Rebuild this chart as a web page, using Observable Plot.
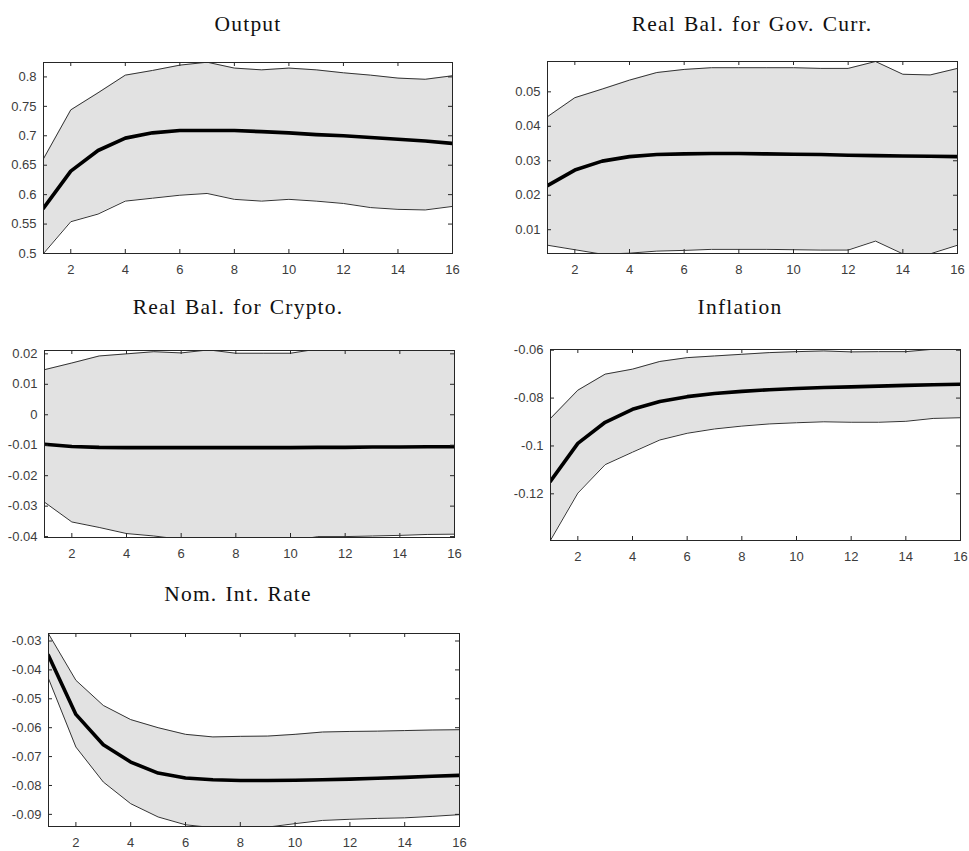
<!DOCTYPE html>
<html>
<head>
<meta charset="utf-8">
<script src="https://cdn.jsdelivr.net/npm/d3@7"></script>
<script src="https://cdn.jsdelivr.net/npm/@observablehq/plot@0.6"></script>
<style>
  html, body { margin: 0; padding: 0; background: #ffffff; }
  #root { position: relative; width: 969px; height: 851px; background: #ffffff; overflow: hidden; }
  .panel { position: absolute; }
  #titles { position: absolute; left: 0; top: 0; pointer-events: none; }
</style>
</head>
<body>
<div id="root"></div>
<script>
// ---------------- data ----------------
const steps = [1, 2, 3, 4, 5, 6, 7, 8, 9, 10, 11, 12, 13, 14, 15, 16];
const xTicks = [2, 4, 6, 8, 10, 12, 14, 16];

const titles = ["Output", "Real Bal. for Gov. Curr.", "Real Bal. for Crypto.", "Inflation", "Nom. Int. Rate"];

// Output
const outputMean  = [0.577, 0.640, 0.675, 0.696, 0.705, 0.709, 0.709, 0.709, 0.707, 0.705, 0.702, 0.700, 0.697, 0.694, 0.691, 0.687];
const outputUpper = [0.661, 0.744, 0.773, 0.803, 0.811, 0.820, 0.825, 0.815, 0.812, 0.815, 0.812, 0.807, 0.803, 0.798, 0.796, 0.802];
const outputLower = [0.500, 0.554, 0.567, 0.589, 0.594, 0.599, 0.602, 0.592, 0.589, 0.592, 0.589, 0.585, 0.578, 0.575, 0.574, 0.580];
const outputTicks = [0.5, 0.55, 0.6, 0.65, 0.7, 0.75, 0.8];
const outputLimits = [0.5, 0.8245];

// Real Bal. for Gov. Curr.
const govMean  = [0.0228, 0.0273, 0.0299, 0.0312, 0.0318, 0.0320, 0.0321, 0.0321, 0.0320, 0.0319, 0.0318, 0.0316, 0.0315, 0.0314, 0.0313, 0.0312];
const govUpper = [0.0428, 0.0483, 0.0508, 0.0534, 0.0556, 0.0565, 0.0570, 0.0570, 0.0570, 0.0570, 0.0568, 0.0568, 0.0588, 0.0551, 0.0549, 0.0568];
const govLower = [0.0055, 0.0042, 0.0029, 0.0032, 0.0038, 0.0040, 0.0043, 0.0043, 0.0043, 0.0042, 0.0041, 0.0041, 0.0067, 0.0030, 0.0030, 0.0055];
const govTicks = [0.01, 0.02, 0.03, 0.04, 0.05];
const govLimits = [0.0031, 0.0588];

// Real Bal. for Crypto.
const cryptoMean  = [-0.0097, -0.0104, -0.0107, -0.0108, -0.0108, -0.0108, -0.0108, -0.0108, -0.0108, -0.0108, -0.0107, -0.0107, -0.0106, -0.0106, -0.0105, -0.0105];
const cryptoUpper = [0.0148, 0.0170, 0.0193, 0.0200, 0.0207, 0.0203, 0.0213, 0.0202, 0.0202, 0.0202, 0.0216, 0.0213, 0.0211, 0.0211, 0.0211, 0.0211];
const cryptoLower = [-0.0287, -0.0352, -0.0370, -0.0390, -0.0398, -0.0409, -0.0404, -0.0413, -0.0414, -0.0414, -0.0400, -0.0400, -0.0398, -0.0396, -0.0393, -0.0392];
const cryptoTicks = [-0.04, -0.03, -0.02, -0.01, 0, 0.01, 0.02];
const cryptoLimits = [-0.0403, 0.0211];

// Inflation
const inflMean  = [-0.1147, -0.0989, -0.0901, -0.0847, -0.0814, -0.0794, -0.0781, -0.0772, -0.0765, -0.0760, -0.0756, -0.0753, -0.0750, -0.0747, -0.0744, -0.0742];
const inflUpper = [-0.0885, -0.0767, -0.0700, -0.0679, -0.0647, -0.0631, -0.0624, -0.0617, -0.0610, -0.0606, -0.0603, -0.0607, -0.0606, -0.0606, -0.0596, -0.0596];
const inflLower = [-0.1394, -0.1197, -0.1078, -0.1026, -0.0975, -0.0947, -0.0929, -0.0917, -0.0908, -0.0903, -0.0899, -0.0901, -0.0901, -0.0897, -0.0885, -0.0882];
const inflTicks = [-0.12, -0.1, -0.08, -0.06];
const inflLimits = [-0.1395, -0.0597];

// Nom. Int. Rate
const rateMean  = [-0.0350, -0.0554, -0.0659, -0.0719, -0.0757, -0.0774, -0.0780, -0.0783, -0.0783, -0.0782, -0.0780, -0.0778, -0.0775, -0.0772, -0.0768, -0.0765];
const rateUpper = [-0.0275, -0.0436, -0.0523, -0.0572, -0.0600, -0.0623, -0.0632, -0.0630, -0.0629, -0.0623, -0.0615, -0.0613, -0.0612, -0.0610, -0.0608, -0.0607];
const rateLower = [-0.0430, -0.0667, -0.0788, -0.0863, -0.0909, -0.0936, -0.0946, -0.0946, -0.0944, -0.0932, -0.0921, -0.0917, -0.0914, -0.0912, -0.0907, -0.0901];
const rateTicks = [-0.09, -0.08, -0.07, -0.06, -0.05, -0.04, -0.03];
const rateLimits = [-0.0942, -0.0274];

// ---------------- layout ----------------
const panels = [
  {title: titles[0], mean: outputMean, upper: outputUpper, lower: outputLower, ticks: outputTicks, limits: outputLimits, box: {x0: 43,  x1: 452, y0: 62,  y1: 253, tx: 248, ty: 31}},
  {title: titles[1], mean: govMean,    upper: govUpper,    lower: govLower,    ticks: govTicks,    limits: govLimits,    box: {x0: 547, x1: 957, y0: 61,  y1: 253, tx: 752, ty: 31}},
  {title: titles[2], mean: cryptoMean, upper: cryptoUpper, lower: cryptoLower, ticks: cryptoTicks, limits: cryptoLimits, box: {x0: 44,  x1: 454, y0: 350, y1: 537, tx: 238, ty: 314}},
  {title: titles[3], mean: inflMean,   upper: inflUpper,   lower: inflLower,   ticks: inflTicks,   limits: inflLimits,   box: {x0: 550, x1: 960, y0: 349, y1: 540, tx: 740, ty: 314}},
  {title: titles[4], mean: rateMean,   upper: rateUpper,   lower: rateLower,   ticks: rateTicks,   limits: rateLimits,   box: {x0: 48,  x1: 459, y0: 633, y1: 826, tx: 238, ty: 601}}
];

const fmt = d => String(+(+d).toFixed(4));
const axisColor = "#262626";
const labelColor = "#3c3c3c";
const root = document.getElementById("root");

for (const p of panels) {
  const b = p.box;
  const W = b.x1 - b.x0, H = b.y1 - b.y0;
  const ml = 50, mr = 14, mt = 8, mb = 28;
  const tl = 4;
  const data = steps.map((s, i) => ({s, lo: p.lower[i], mid: p.mean[i], hi: p.upper[i]}));
  const chart = Plot.plot({
    width: W + ml + mr,
    height: H + mt + mb,
    marginLeft: ml, marginRight: mr, marginTop: mt, marginBottom: mb,
    style: {fontFamily: "'Liberation Sans', Arial, sans-serif", fontSize: "13px", color: labelColor, background: "transparent", overflow: "visible"},
    x: {domain: [1, 16], ticks: xTicks, tickFormat: fmt, tickSize: 0, tickPadding: 11, label: null},
    y: {domain: p.limits, ticks: p.ticks, tickFormat: fmt, tickSize: 0, tickPadding: 7, label: null},
    marks: [
      Plot.areaY(data, {x: "s", y1: "lo", y2: "hi", fill: "#e2e2e2", clip: true}),
      Plot.lineY(data, {x: "s", y: "hi", stroke: "#333333", strokeWidth: 1, clip: true}),
      Plot.lineY(data, {x: "s", y: "lo", stroke: "#333333", strokeWidth: 1, clip: true}),
      Plot.lineY(data, {x: "s", y: "mid", stroke: "#000000", strokeWidth: 3.6, clip: true}),
      Plot.tickY(p.ticks, {y: d => d, insetRight: W - tl, stroke: axisColor, strokeWidth: 1}),
      Plot.tickY(p.ticks, {y: d => d, insetLeft: W - tl, stroke: axisColor, strokeWidth: 1}),
      Plot.tickX(xTicks, {x: d => d, insetTop: H - tl, stroke: axisColor, strokeWidth: 1}),
      Plot.tickX(xTicks, {x: d => d, insetBottom: H - tl, stroke: axisColor, strokeWidth: 1}),
      Plot.frame({stroke: axisColor, strokeWidth: 1})
    ]
  });
  chart.classList.add("panel");
  chart.style.left = (b.x0 - ml) + "px";
  chart.style.top = (b.y0 - mt) + "px";
  root.appendChild(chart);
}

// titles
const tsvg = d3.select(root).append("svg")
  .attr("id", "titles").attr("width", 969).attr("height", 851);
tsvg.selectAll("text").data(panels).join("text")
  .attr("x", p => p.box.tx)
  .attr("y", p => p.box.ty)
  .attr("text-anchor", "middle")
  .attr("font-family", "'Liberation Serif', 'Times New Roman', serif")
  .attr("font-size", 21.5)
  .attr("letter-spacing", 1.2)
  .attr("word-spacing", 1.5)
  .attr("fill", "#111")
  .text(p => p.title);
</script>
</body>
</html>
